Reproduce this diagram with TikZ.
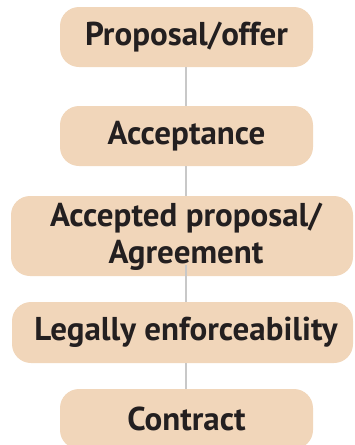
\documentclass[tikz,border=0pt]{standalone}
\usepackage{fontspec}
\setmainfont{PT Sans}
\definecolor{peach}{RGB}{241,214,186}
\definecolor{ink}{RGB}{35,31,32}
\definecolor{conn}{RGB}{200,200,200}
\begin{document}
\begin{tikzpicture}[x=1pt,y=-1pt,
  box/.style={fill=peach, rounded corners=19pt, inner sep=0pt, minimum height=60pt,
    text=ink, font=\fontsize{33}{37}\selectfont\bfseries, align=center},
  label/.style={inner sep=0pt, text=ink, font=\fontsize{33}{37}\selectfont\bfseries, align=center},
  conn/.style={draw=conn, line width=1.5pt}]
\useasboundingbox (0,0) rectangle (354,445);
\coordinate (axis) at (186,0);
\node[box, minimum width=253pt] (a) at (186.5,37) {Proposal/offer};
\node[box, minimum width=253pt] (b) at (186.5,136) {Acceptance};
\node[box, minimum width=342pt, minimum height=80pt] (c) at (182,236) {};
\node[label] (ct) at (186,237) {Accepted proposal/\\Agreement};
\node[box, minimum width=341pt, minimum height=61pt] (d) at (182.5,332.5) {};
\node[label] (dt) at (186,332.5) {Legally enforceability};
\node[box, minimum width=253pt] (e) at (186.5,419) {Contract};
\draw[conn] (a.south -| axis) -- (b.north -| axis);
\draw[conn] (b.south -| axis) -- (c.north -| axis);
\draw[conn] ([yshift=11pt]c.south -| axis) -- (d.north -| axis);
\draw[conn] (d.south -| axis) -- (e.north -| axis);
\end{tikzpicture}
\end{document}
